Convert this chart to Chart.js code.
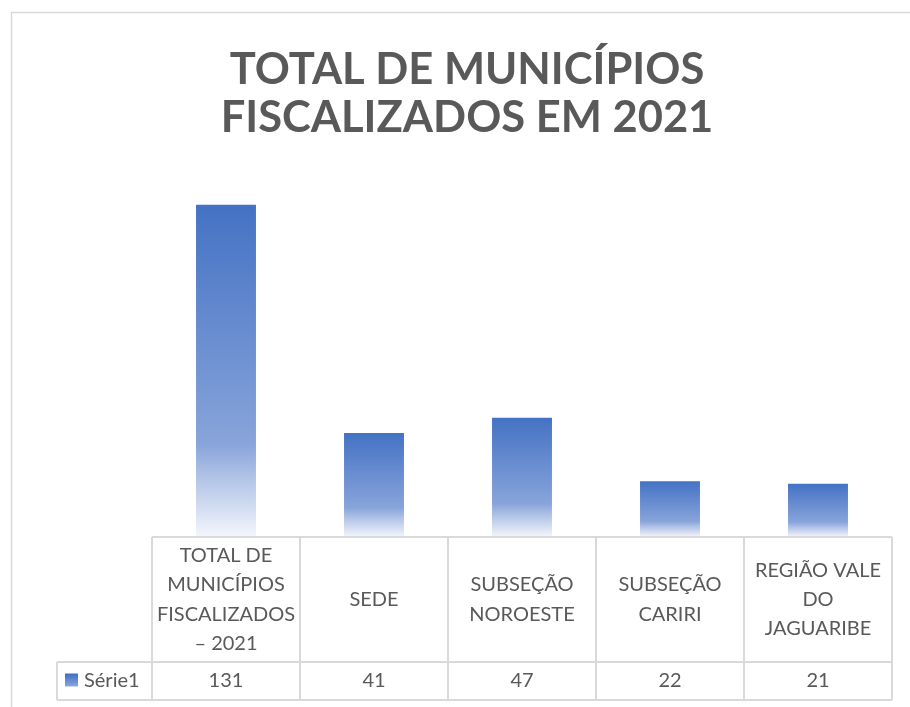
<!DOCTYPE html>
<html>
<head>
<meta charset="utf-8">
<script src="https://cdn.jsdelivr.net/npm/chart.js@4.4.1/dist/chart.umd.min.js"></script>
<style>
  html, body { margin: 0; padding: 0; background: #ffffff; overflow: hidden; }
  #wrap { position: relative; width: 910px; height: 707px; }
  canvas { display: block; }
</style>
</head>
<body>
<div id="wrap"><canvas id="c" width="910" height="707"></canvas></div>
<script>
// ---- data ----
const categories = [
  ['TOTAL DE', 'MUNICÍPIOS', 'FISCALIZADOS', '– 2021'],
  ['SEDE'],
  ['SUBSEÇÃO', 'NOROESTE'],
  ['SUBSEÇÃO', 'CARIRI'],
  ['REGIÃO VALE', 'DO', 'JAGUARIBE']
];
const seriesName = 'Série1';
const values = [131, 41, 47, 22, 21];
const titleLines = ['TOTAL DE MUNICÍPIOS', 'FISCALIZADOS EM 2021'];
const yMin = 0;
const yMax = 140;

// ---- style ----
const TEXT = '#595959';
const GRID = '#d9d9d9';
const FONT = 'Lato, "Open Sans", sans-serif';

function barGradient(ctx2d, top, bottom) {
  const g = ctx2d.createLinearGradient(0, top, 0, bottom);
  g.addColorStop(0, '#4472C4');
  g.addColorStop(0.72, '#88A4DA');
  g.addColorStop(0.80, '#A9BDE4');
  g.addColorStop(1, '#F4F6FC');
  return g;
}

const TABLE_H = 163;   // height of data table under plot
const ROW1_H = 125;    // category row height
const LEGEND_W = 95;   // width of legend cell
const LINE_GAP = 29.3;

const dataTablePlugin = {
  id: 'dataTable',
  beforeDraw(chart) {
    const ctx = chart.ctx;
    ctx.save();
    ctx.strokeStyle = GRID;
    ctx.lineWidth = 1.5;
    ctx.beginPath();
    ctx.moveTo(11.5, 707); ctx.lineTo(11.5, 12.5); ctx.lineTo(910, 12.5);
    ctx.stroke();
    ctx.restore();
  },
  afterDraw(chart) {
    const ctx = chart.ctx;
    const xs = chart.scales.x;
    const area = chart.chartArea;
    const n = categories.length;
    const step = xs.getPixelForValue(1) - xs.getPixelForValue(0);
    const left = xs.getPixelForValue(0) - step / 2;
    const right = xs.getPixelForValue(n - 1) + step / 2;
    const yTop = area.bottom;
    const yMid = yTop + ROW1_H;
    const yBot = yTop + TABLE_H;
    const legLeft = left - LEGEND_W;

    ctx.save();
    ctx.strokeStyle = GRID;
    ctx.lineWidth = 2;
    ctx.beginPath();
    ctx.moveTo(left, yTop); ctx.lineTo(right, yTop);
    ctx.moveTo(legLeft, yMid); ctx.lineTo(right, yMid);
    ctx.moveTo(legLeft, yBot); ctx.lineTo(right, yBot);
    ctx.moveTo(legLeft, yMid); ctx.lineTo(legLeft, yBot);
    for (let i = 0; i <= n; i++) {
      const x = left + i * step;
      ctx.moveTo(x, yTop); ctx.lineTo(x, yBot);
    }
    ctx.stroke();

    ctx.fillStyle = TEXT;
    ctx.textAlign = 'center';
    ctx.textBaseline = 'middle';
    ctx.font = '20px ' + FONT;
    const rowC = (yTop + yMid) / 2;
    const valC = (yMid + yBot) / 2;
    categories.forEach((lines, i) => {
      const cx = xs.getPixelForValue(i);
      const start = rowC - (lines.length - 1) * LINE_GAP / 2;
      lines.forEach((t, k) => ctx.fillText(t, cx, start + k * LINE_GAP));
      ctx.fillText(String(values[i]), cx, valC);
    });

    // legend key
    const kx = legLeft + 8, ks = 13;
    ctx.fillStyle = barGradient(ctx, valC - ks / 2, valC + ks / 2 + 3);
    ctx.fillRect(kx, valC - ks / 2 - 1, ks, ks);
    ctx.fillStyle = TEXT;
    ctx.textAlign = 'left';
    ctx.fillText(seriesName, kx + ks + 6, valC);
    ctx.restore();
  }
};

new Chart(document.getElementById('c'), {
  type: 'bar',
  data: {
    labels: categories,
    datasets: [{
      label: seriesName,
      data: values,
      backgroundColor: (c) => {
        const chart = c.chart;
        if (!chart.chartArea || c.type !== 'data') return '#4472C4';
        const ys = chart.scales.y;
        return barGradient(chart.ctx, ys.getPixelForValue(c.raw), ys.getPixelForValue(0));
      },
      borderWidth: 0,
      categoryPercentage: 1,
      barPercentage: 0.405
    }]
  },
  options: {
    responsive: false,
    animation: false,
    events: [],
    layout: { padding: { left: 42, right: 18, top: 12, bottom: 7 } },
    plugins: {
      legend: { display: false },
      tooltip: { enabled: false },
      title: {
        display: true,
        text: titleLines,
        color: TEXT,
        font: { family: FONT, size: 43.5, weight: 'bold', lineHeight: '48px' },
        padding: { top: 34, bottom: 40 }
      }
    },
    scales: {
      x: {
        display: true,
        grid: { display: false },
        border: { display: false },
        ticks: { display: false },
        afterFit: (s) => { s.height = TABLE_H; }
      },
      y: {
        display: true,
        min: yMin,
        max: yMax,
        grid: { display: false },
        border: { display: false },
        ticks: { display: false },
        afterFit: (s) => { s.width = 110; }
      }
    }
  },
  plugins: [dataTablePlugin]
});
</script>
</body>
</html>
